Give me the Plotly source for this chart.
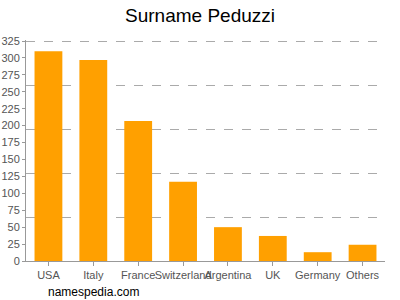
import plotly.graph_objects as go

categories = ["USA", "Italy", "France", "Switzerland", "Argentina", "UK", "Germany", "Others"]
values = [310, 297, 207, 117, 50, 37, 13, 24]
y_tick_vals = list(range(0, 326, 25))
y_tick_text = [str(v) for v in y_tick_vals]

fig = go.Figure()
fig.add_trace(go.Scatter(x=[categories[0]], y=[None], yaxis="y2", showlegend=False, hoverinfo="skip"))
fig.add_trace(go.Bar(x=categories, y=values, marker=dict(color="#ffa000", line=dict(width=0)), yaxis="y"))

fig.update_layout(
    width=400, height=300,
    margin=dict(l=26, r=15, t=40, b=39, autoexpand=False),
    paper_bgcolor="white", plot_bgcolor="white",
    bargap=0.38,
    showlegend=False,
    font=dict(family="Liberation Sans, Arial, sans-serif", color="#555555", size=11),
    title=dict(text="Surname Peduzzi", x=0.5, xanchor="center", y=0.95, yanchor="middle",
               font=dict(size=19, color="#000000", family="Liberation Sans, Arial, sans-serif")),
    xaxis=dict(showline=True, linecolor="#999999", linewidth=1, ticks="outside", ticklen=4,
               tickcolor="#999999", showgrid=False, tickangle=0, automargin=False,
               tickfont=dict(size=11, color="#555555")),
    yaxis=dict(range=[0, 326.5], tickvals=y_tick_vals, ticktext=y_tick_text, showline=True,
               linecolor="#999999", linewidth=1, ticks="outside", ticklen=3, tickcolor="#999999",
               showgrid=False, zeroline=False, automargin=False,
               tickfont=dict(size=11, color="#555555")),
    yaxis2=dict(range=[0, 326.5], dtick=65, tick0=0, overlaying="y", showticklabels=False,
                showgrid=True, gridcolor="#aaaaaa", griddash="dash", gridwidth=1, zeroline=False,
                showline=False, ticks="", automargin=False),
    annotations=[dict(text="namespedia.com", xref="paper", yref="paper", x=0.055, y=-0.141,
                      xanchor="left", yanchor="middle", showarrow=False,
                      font=dict(size=12, color="#000000"))],
)
fig.write_html("out.html")
